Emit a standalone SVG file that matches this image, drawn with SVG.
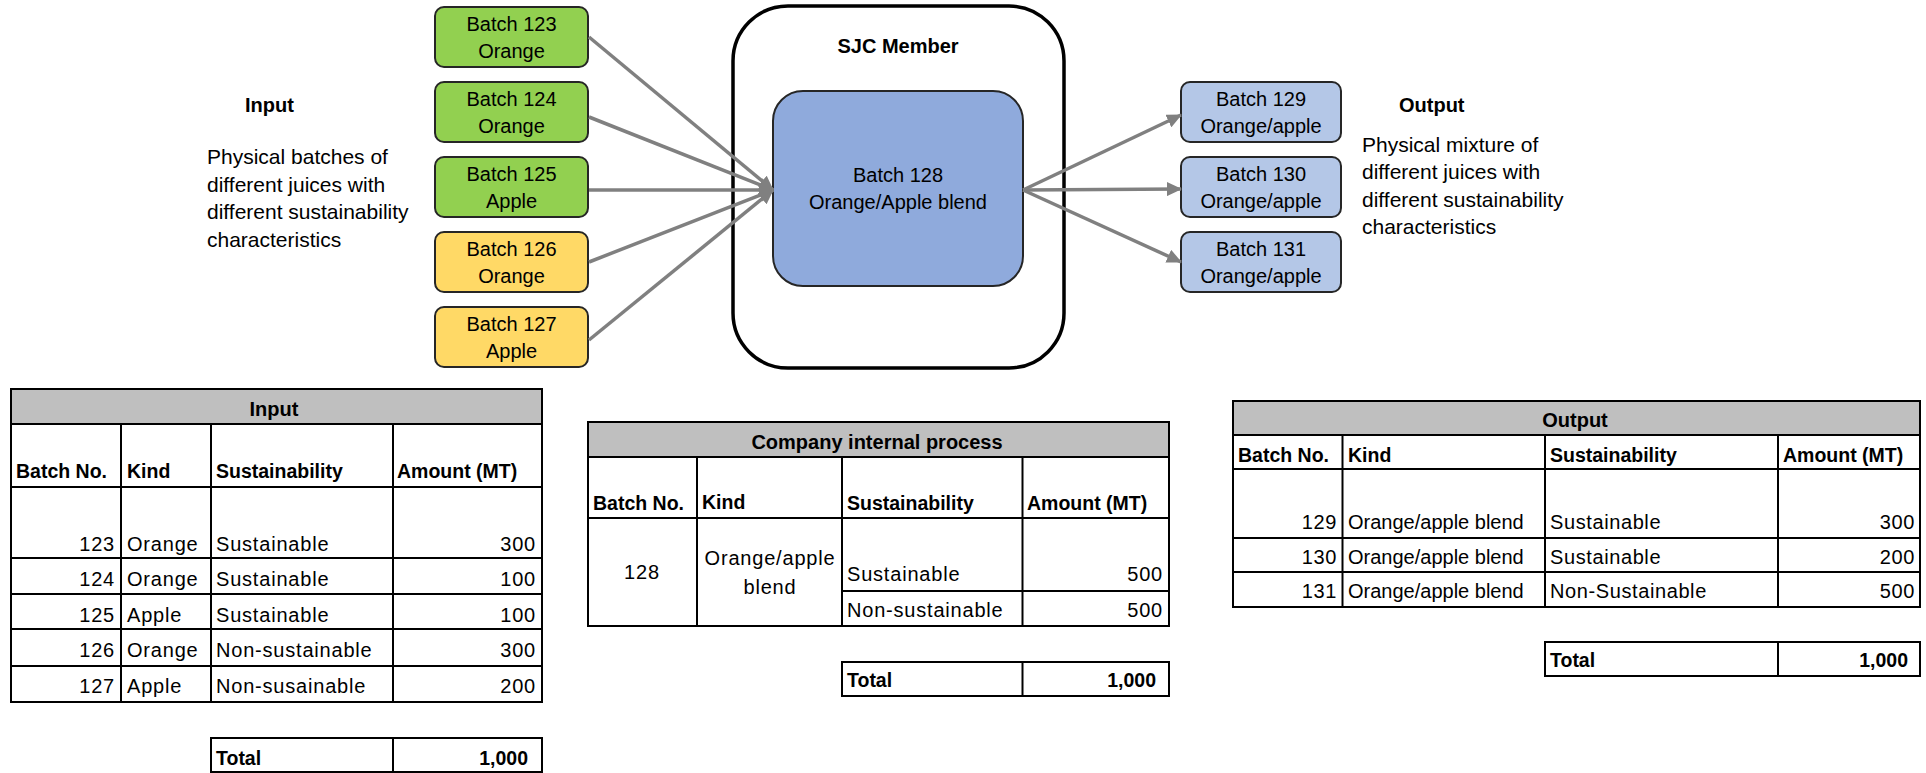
<svg xmlns="http://www.w3.org/2000/svg" width="1926" height="773" viewBox="0 0 1926 773">
<style>
text{font-family:"Liberation Sans",Arial,sans-serif;fill:#000}
.bx{font-size:20px;text-anchor:middle}
.lbl{font-size:20px;font-weight:bold}
.par{font-size:21px}
.box{stroke:#262626;stroke-width:2}
.g{fill:#92d050}.y{fill:#ffd966}.lb{fill:#b4c7e7}
.con{stroke:#808080;stroke-width:3.5;fill:none;marker-end:url(#ah)}
.tl{stroke:#000;stroke-width:2;fill:none}
.tt{fill:#bfbfbf;stroke:#000;stroke-width:2}
.th{font-size:19.5px;font-weight:bold}
.td{font-size:20px;letter-spacing:0.8px}
.tdo{font-size:20px;letter-spacing:0.6px}
.tdk{font-size:20px}
.r{text-anchor:end}
.c{text-anchor:middle}
</style>
<defs>
<marker id="ah" markerWidth="16" markerHeight="14" refX="14" refY="7" orient="auto" markerUnits="userSpaceOnUse">
<path d="M0,0 L15,7 L0,14 Z" fill="#808080"/>
</marker>
</defs>

<g id="input-label">
<text class="lbl" x="245" y="112">Input</text>
<text class="par" x="207" y="164">Physical batches of</text>
<text class="par" x="207" y="192">different juices with</text>
<text class="par" x="207" y="219">different sustainability</text>
<text class="par" x="207" y="247">characteristics</text>
</g>

<g id="output-label">
<text class="lbl" x="1399" y="112">Output</text>
<text class="par" x="1362" y="152">Physical mixture of</text>
<text class="par" x="1362" y="179">different juices with</text>
<text class="par" x="1362" y="207">different sustainability</text>
<text class="par" x="1362" y="234">characteristics</text>
</g>

<g id="sjc-member">
<rect x="733" y="6" width="331" height="362" rx="55" fill="#fff" stroke="#000" stroke-width="3.5"/>
<text class="lbl" x="898" y="53" text-anchor="middle">SJC Member</text>
</g>

<g id="batch128">
<rect x="773" y="91" width="250" height="195" rx="30" fill="#8faadc" stroke="#262626" stroke-width="2"/>
<text class="bx" x="898" y="182">Batch 128</text>
<text class="bx" x="898" y="209">Orange/Apple blend</text>
</g>

<g id="batch123">
<rect class="box g" x="435" y="7" width="153" height="60" rx="9"/>
<text class="bx" x="511.5" y="31">Batch 123</text>
<text class="bx" x="511.5" y="58">Orange</text>
</g>
<g id="batch124">
<rect class="box g" x="435" y="82" width="153" height="60" rx="9"/>
<text class="bx" x="511.5" y="106">Batch 124</text>
<text class="bx" x="511.5" y="133">Orange</text>
</g>
<g id="batch125">
<rect class="box g" x="435" y="157" width="153" height="60" rx="9"/>
<text class="bx" x="511.5" y="181">Batch 125</text>
<text class="bx" x="511.5" y="208">Apple</text>
</g>
<g id="batch126">
<rect class="box y" x="435" y="232" width="153" height="60" rx="9"/>
<text class="bx" x="511.5" y="256">Batch 126</text>
<text class="bx" x="511.5" y="283">Orange</text>
</g>
<g id="batch127">
<rect class="box y" x="435" y="307" width="153" height="60" rx="9"/>
<text class="bx" x="511.5" y="331">Batch 127</text>
<text class="bx" x="511.5" y="358">Apple</text>
</g>

<g id="batch129">
<rect class="box lb" x="1181" y="82" width="160" height="60" rx="9"/>
<text class="bx" x="1261" y="106">Batch 129</text>
<text class="bx" x="1261" y="133">Orange/apple</text>
</g>
<g id="batch130">
<rect class="box lb" x="1181" y="157" width="160" height="60" rx="9"/>
<text class="bx" x="1261" y="181">Batch 130</text>
<text class="bx" x="1261" y="208">Orange/apple</text>
</g>
<g id="batch131">
<rect class="box lb" x="1181" y="232" width="160" height="60" rx="9"/>
<text class="bx" x="1261" y="256">Batch 131</text>
<text class="bx" x="1261" y="283">Orange/apple</text>
</g>

<g id="connectors">
<line class="con" x1="589" y1="37" x2="773" y2="190"/>
<line class="con" x1="589" y1="117" x2="773" y2="190"/>
<line class="con" x1="589" y1="190" x2="773" y2="190"/>
<line class="con" x1="589" y1="262" x2="773" y2="190"/>
<line class="con" x1="589" y1="340" x2="773" y2="190"/>
<line class="con" x1="1023" y1="190" x2="1181" y2="115"/>
<line class="con" x1="1023" y1="190" x2="1181" y2="189"/>
<line class="con" x1="1023" y1="190" x2="1181" y2="262"/>
</g>

<g id="table-input">
<rect class="tt" x="11" y="389" width="531" height="35"/>
<rect class="tl" x="11" y="424" width="531" height="278"/>
<line class="tl" x1="121" y1="424" x2="121" y2="702"/>
<line class="tl" x1="211" y1="424" x2="211" y2="702"/>
<line class="tl" x1="393" y1="424" x2="393" y2="702"/>
<line class="tl" x1="11" y1="487" x2="542" y2="487"/>
<line class="tl" x1="11" y1="558" x2="542" y2="558"/>
<line class="tl" x1="11" y1="594" x2="542" y2="594"/>
<line class="tl" x1="11" y1="629" x2="542" y2="629"/>
<line class="tl" x1="11" y1="666" x2="542" y2="666"/>
<text class="lbl c" x="274" y="416">Input</text>
<text class="th" x="16" y="478">Batch No.</text>
<text class="th" x="127" y="478">Kind</text>
<text class="th" x="216" y="478">Sustainability</text>
<text class="th" x="397" y="478">Amount (MT)</text>
<text class="td r" x="115" y="551">123</text><text class="td" x="127" y="551">Orange</text><text class="td" x="216" y="551">Sustainable</text><text class="td r" x="536" y="551">300</text>
<text class="td r" x="115" y="586">124</text><text class="td" x="127" y="586">Orange</text><text class="td" x="216" y="586">Sustainable</text><text class="td r" x="536" y="586">100</text>
<text class="td r" x="115" y="622">125</text><text class="td" x="127" y="622">Apple</text><text class="td" x="216" y="622">Sustainable</text><text class="td r" x="536" y="622">100</text>
<text class="td r" x="115" y="657">126</text><text class="td" x="127" y="657">Orange</text><text class="td" x="216" y="657">Non-sustainable</text><text class="td r" x="536" y="657">300</text>
<text class="td r" x="115" y="693">127</text><text class="td" x="127" y="693">Apple</text><text class="td" x="216" y="693">Non-susainable</text><text class="td r" x="536" y="693">200</text>
<rect class="tl" x="211" y="738" width="331" height="34"/>
<line class="tl" x1="393" y1="738" x2="393" y2="772"/>
<text class="th" x="216" y="765">Total</text>
<text class="th r" x="528" y="765">1,000</text>
</g>

<g id="table-process">
<rect class="tt" x="588" y="422" width="581" height="35"/>
<rect class="tl" x="588" y="457" width="581" height="169"/>
<line class="tl" x1="697" y1="457" x2="697" y2="626"/>
<line class="tl" x1="842" y1="457" x2="842" y2="626"/>
<line class="tl" x1="1022.5" y1="457" x2="1022.5" y2="626"/>
<line class="tl" x1="588" y1="518" x2="1169" y2="518"/>
<line class="tl" x1="842" y1="591" x2="1169" y2="591"/>
<text class="lbl c" x="877" y="449">Company internal process</text>
<text class="th" x="593" y="510">Batch No.</text>
<text class="th" x="702" y="509">Kind</text>
<text class="th" x="847" y="510">Sustainability</text>
<text class="th" x="1027" y="510">Amount (MT)</text>
<text class="td c" x="642" y="579">128</text>
<text class="td c" x="770" y="565">Orange/apple</text>
<text class="td c" x="770" y="594">blend</text>
<text class="td" x="847" y="581">Sustainable</text>
<text class="td r" x="1163" y="581">500</text>
<text class="td" x="847" y="617">Non-sustainable</text>
<text class="td r" x="1163" y="617">500</text>
<rect class="tl" x="842" y="662" width="327" height="34"/>
<line class="tl" x1="1022.5" y1="662" x2="1022.5" y2="696"/>
<text class="th" x="847" y="687">Total</text>
<text class="th r" x="1156" y="687">1,000</text>
</g>

<g id="table-output">
<rect class="tt" x="1233" y="401" width="687" height="34"/>
<rect class="tl" x="1233" y="435" width="687" height="172"/>
<line class="tl" x1="1342.5" y1="435" x2="1342.5" y2="607"/>
<line class="tl" x1="1545" y1="435" x2="1545" y2="607"/>
<line class="tl" x1="1778" y1="435" x2="1778" y2="607"/>
<line class="tl" x1="1233" y1="469" x2="1920" y2="469"/>
<line class="tl" x1="1233" y1="538" x2="1920" y2="538"/>
<line class="tl" x1="1233" y1="572" x2="1920" y2="572"/>
<text class="lbl c" x="1575" y="427">Output</text>
<text class="th" x="1238" y="462">Batch No.</text>
<text class="th" x="1348" y="462">Kind</text>
<text class="th" x="1550" y="462">Sustainability</text>
<text class="th" x="1783" y="462">Amount (MT)</text>
<text class="tdo r" x="1337" y="529">129</text><text class="tdk" x="1348" y="529">Orange/apple blend</text><text class="tdo" x="1550" y="529">Sustainable</text><text class="tdo r" x="1915" y="529">300</text>
<text class="tdo r" x="1337" y="564">130</text><text class="tdk" x="1348" y="564">Orange/apple blend</text><text class="tdo" x="1550" y="564">Sustainable</text><text class="tdo r" x="1915" y="564">200</text>
<text class="tdo r" x="1337" y="598">131</text><text class="tdk" x="1348" y="598">Orange/apple blend</text><text class="tdo" x="1550" y="598">Non-Sustainable</text><text class="tdo r" x="1915" y="598">500</text>
<rect class="tl" x="1545" y="642" width="375" height="34"/>
<line class="tl" x1="1778" y1="642" x2="1778" y2="676"/>
<text class="th" x="1550" y="667">Total</text>
<text class="th r" x="1908" y="667">1,000</text>
</g>
</svg>
